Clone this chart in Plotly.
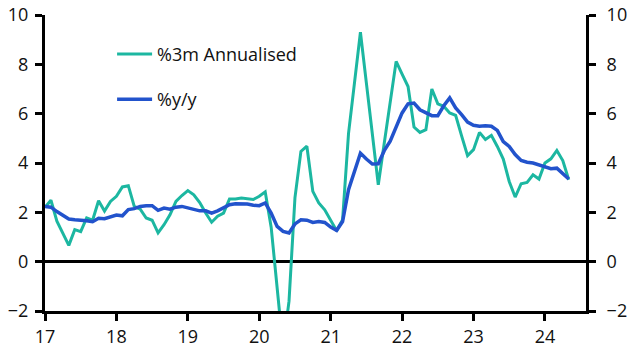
import plotly.graph_objects as go

start_year = 17
annualised_3m = [2.2, 2.49, 1.64, 1.17, 0.66, 1.3, 1.22, 1.77, 1.68, 2.47, 2.05, 2.44,
                 2.65, 3.03, 3.08, 2.24, 2.13, 1.77, 1.68, 1.17, 1.5, 1.9, 2.44, 2.68,
                 2.88, 2.71, 2.4, 1.97, 1.6, 1.84, 1.97, 2.54, 2.54, 2.58, 2.54, 2.52,
                 2.65, 2.83, 1.4, -0.9, -3.5, -1.6, 2.6, 4.47, 4.68, 2.85, 2.38, 2.1,
                 1.7, 1.25, 1.7, 5.2, 7.25, 9.3, 7.24, 5.18, 3.12, 4.8, 6.5, 8.12,
                 7.6, 7.1, 5.46, 5.24, 5.35, 7.0, 6.4, 6.3, 6.03, 5.93, 5.1, 4.3,
                 4.54, 5.24, 4.95, 5.12, 4.67, 4.16, 3.25, 2.62, 3.16, 3.21, 3.52, 3.35,
                 4.0, 4.17, 4.51, 4.1, 3.32]
yoy = [2.24, 2.21, 2.03, 1.87, 1.73, 1.70, 1.69, 1.66, 1.62, 1.76, 1.74, 1.80,
       1.89, 1.86, 2.11, 2.15, 2.24, 2.27, 2.27, 2.08, 2.17, 2.13, 2.21, 2.24,
       2.17, 2.13, 2.06, 2.06, 1.97, 2.06, 2.17, 2.31, 2.35, 2.35, 2.34, 2.29,
       2.27, 2.38, 1.97, 1.43, 1.23, 1.16, 1.53, 1.7, 1.68, 1.59, 1.63, 1.59,
       1.4, 1.27, 1.63, 2.92, 3.66, 4.4, 4.16, 3.96, 3.97, 4.5, 4.88, 5.42,
       6.03, 6.4, 6.43, 6.16, 6.03, 5.92, 5.92, 6.32, 6.64, 6.23, 5.96, 5.66,
       5.53, 5.49, 5.51, 5.49, 5.32, 4.87, 4.67, 4.34, 4.1, 4.03, 4.0, 3.93,
       3.86, 3.77, 3.79, 3.57, 3.35]
x_ticks = [17, 18, 19, 20, 21, 22, 23, 24]
y_ticks = [-2, 0, 2, 4, 6, 8, 10]

x = [start_year + i / 12 for i in range(len(yoy))]

FONT = "Open Sans"
fig = go.Figure()
fig.add_trace(go.Scatter(x=x, y=annualised_3m, mode="lines", name="%3m Annualised",
                         line=dict(color="#1CB7A1", width=3), legendgroup="a",
                         hoverinfo="skip"))
fig.add_trace(go.Scatter(x=x, y=yoy, mode="lines", name="%y/y", yaxis="y2",
                         line=dict(color="#2253CC", width=3.5), legendgroup="b",
                         hoverinfo="skip"))

axis_common = dict(showgrid=False, showline=True, linecolor="black", linewidth=3,
                   ticks="outside", ticklen=7, tickwidth=3, tickcolor="black",
                   automargin=False,
                   tickfont=dict(family=FONT, size=18, color="#111"))
fig.update_layout(
    width=629, height=355,
    margin=dict(l=45, r=43, t=15, b=44, autoexpand=False),
    plot_bgcolor="white", paper_bgcolor="white",
    xaxis=dict(range=[17, 24.575], tickvals=x_ticks, ticktext=[str(v) for v in x_ticks],
               zeroline=False, **axis_common),
    yaxis=dict(range=[-2, 10], tickvals=y_ticks, zeroline=True, zerolinecolor="black",
               zerolinewidth=3, ticklabelstandoff=3, **axis_common),
    yaxis2=dict(range=[-2, 10], tickvals=y_ticks, overlaying="y", side="right",
                zeroline=False, anchor="x", ticklabelstandoff=7, **axis_common),
    showlegend=True,
    legend=dict(x=0.124, y=0.93, xanchor="left", yanchor="top", bgcolor="rgba(0,0,0,0)",
                font=dict(family=FONT, size=18, color="#111"), tracegroupgap=19,
                traceorder="grouped", itemwidth=35),
)
fig.write_html("out.html", config={"displayModeBar": False},
               post_script="document.body.style.margin='0';document.body.style.overflow='hidden';")
